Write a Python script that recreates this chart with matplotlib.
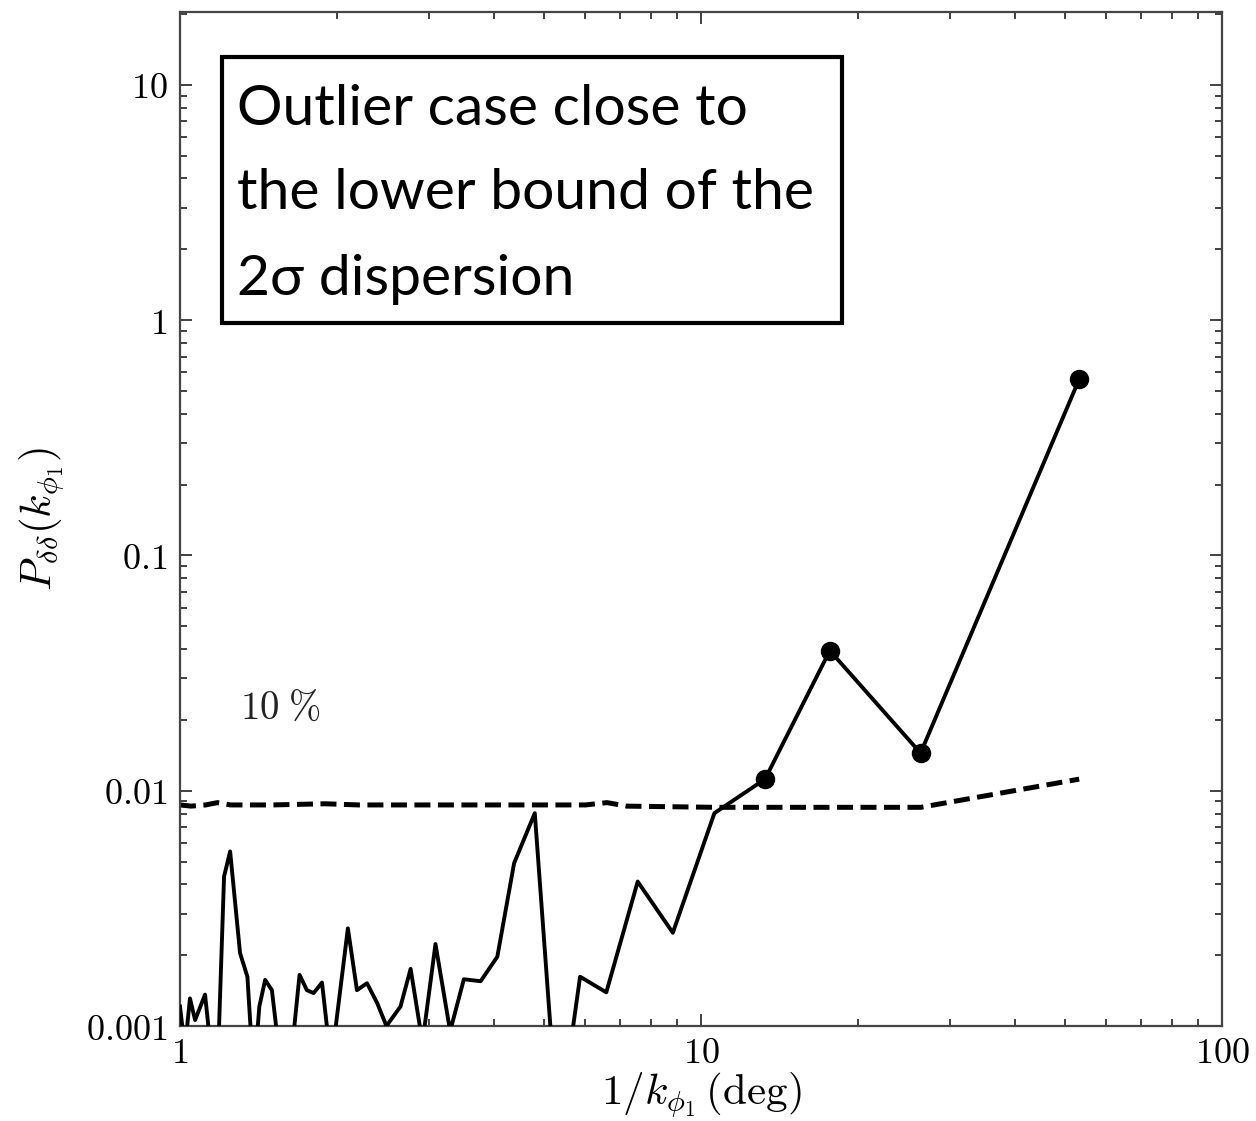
import matplotlib
matplotlib.use("Agg")
import matplotlib.pyplot as plt
from matplotlib.patches import Rectangle
from matplotlib.ticker import FixedLocator, FixedFormatter, LogLocator, NullFormatter

plt.rcParams['mathtext.fontset'] = 'cm'

# ---- data ----
solid_x = [1.00, 1.022, 1.045, 1.069, 1.117, 1.175, 1.215, 1.248, 1.304, 1.347,
           1.385, 1.42, 1.457, 1.501, 1.597, 1.696, 1.752, 1.805, 1.873, 1.95,
           2.10, 2.186, 2.285, 2.391, 2.49, 2.65, 2.771, 2.92, 3.093, 3.30,
           3.506, 3.776, 4.065, 4.378, 4.797, 5.32, 5.86, 6.58, 7.56, 8.83,
           10.61, 13.27, 17.67, 26.39, 53.2]
solid_y = [0.00121, 0.0008, 0.00131, 0.00106, 0.00136, 0.00047, 0.00432, 0.00552, 0.00204, 0.00162,
           0.0006, 0.00121, 0.00157, 0.00142, 0.00044, 0.00165, 0.00142, 0.00138, 0.00153, 0.00069,
           0.0026, 0.00142, 0.00152, 0.00125, 0.00100, 0.00121, 0.00175, 0.00085, 0.00223, 0.00095,
           0.00158, 0.00155, 0.00197, 0.00492, 0.00803, 0.00035, 0.00162, 0.00139, 0.00411, 0.00249,
           0.00803, 0.0112, 0.0394, 0.01445, 0.561]
n_marked = 4  # last points drawn with filled circles

dash_x = [1.0, 1.05, 1.12, 1.18, 1.25, 1.5, 1.9, 2.2, 2.6, 3.0, 4.0, 5.0, 6.0, 6.6, 7.2,
          10.6, 13.3, 17.7, 26.4, 53.2]
dash_y = [0.0087, 0.0086, 0.0087, 0.0089, 0.0087, 0.0087, 0.0088, 0.0087, 0.0087, 0.0087,
          0.0087, 0.0087, 0.0087, 0.0089, 0.0086, 0.0085, 0.0085, 0.0085, 0.0085, 0.0112]

xtick_vals = [1, 10, 100]
xtick_labels = ['1', '10', '100']
ytick_vals = [0.001, 0.01, 0.1, 1, 10]
ytick_labels = ['0.001', '0.01', '0.1', '1', '10']

box_lines = ["Outlier case close to", "the lower bound of the", "2\u03c3 dispersion"]
level_label = r'$10\;\%$'

# ---- figure ----
W, H = 1256, 1121
fig = plt.figure(figsize=(W / 100, H / 100), dpi=100)
ax = fig.add_axes([180 / W, 95 / H, 1042 / W, 1014 / H])

ax.plot(dash_x, dash_y, color='black', lw=3.6, linestyle=(0, (3.2, 1.5)),
        solid_capstyle='butt', dash_capstyle='butt', zorder=2)
ax.plot(solid_x, solid_y, color='black', lw=2.8, marker='o', markersize=13,
        markevery=slice(len(solid_x) - n_marked, None), zorder=3)

ax.set_xscale('log')
ax.set_yscale('log')
ax.set_xlim(1, 100)
ax.set_ylim(0.001, 20.4)

ax.xaxis.set_major_locator(FixedLocator(xtick_vals))
ax.xaxis.set_major_formatter(FixedFormatter(['$%s$' % s for s in xtick_labels]))
ax.yaxis.set_major_locator(FixedLocator(ytick_vals))
ax.yaxis.set_major_formatter(FixedFormatter(['$%s$' % s for s in ytick_labels]))
for axis in (ax.xaxis, ax.yaxis):
    axis.set_minor_locator(LogLocator(base=10, subs=range(2, 10), numticks=20))
    axis.set_minor_formatter(NullFormatter())

ax.tick_params(which='both', direction='in', top=True, right=True,
               color='#333333', width=1.3, labelsize=26, labelcolor='black')
ax.tick_params(which='major', length=8.5)
ax.tick_params(which='minor', length=5)
ax.tick_params(axis='x', pad=7)
ax.tick_params(axis='y', pad=9)
for sp in ax.spines.values():
    sp.set_color('#444444')
    sp.set_linewidth(1.6)

ax.set_xlabel(r'$1/k_{\phi_1}\,(\mathrm{deg})$', fontsize=31)
ax.xaxis.set_label_coords(0.5, -0.0685, transform=ax.transAxes)
ax.xaxis.label.set_va('center')
ax.set_ylabel(r'$P_{\delta\delta}(k_{\phi_1})$', fontsize=31, labelpad=14)

ax.text(0.0576, 0.3136, level_label, transform=ax.transAxes,
        fontsize=28, va='center', ha='left', color='#222222')

# annotation box
fig.add_artist(Rectangle((222 / W, (H - 323) / H), 620 / W, 266 / H,
                         transform=fig.transFigure, facecolor='white',
                         edgecolor='black', linewidth=3, zorder=10))
baselines = [125, 209, 295]
for line, yb in zip(box_lines, baselines):
    fig.text(237 / W, (H - yb) / H, line, fontsize=41, va='baseline', ha='left',
             family=['Lato', 'DejaVu Sans'], zorder=11)

fig.savefig('out.png', dpi=100)
